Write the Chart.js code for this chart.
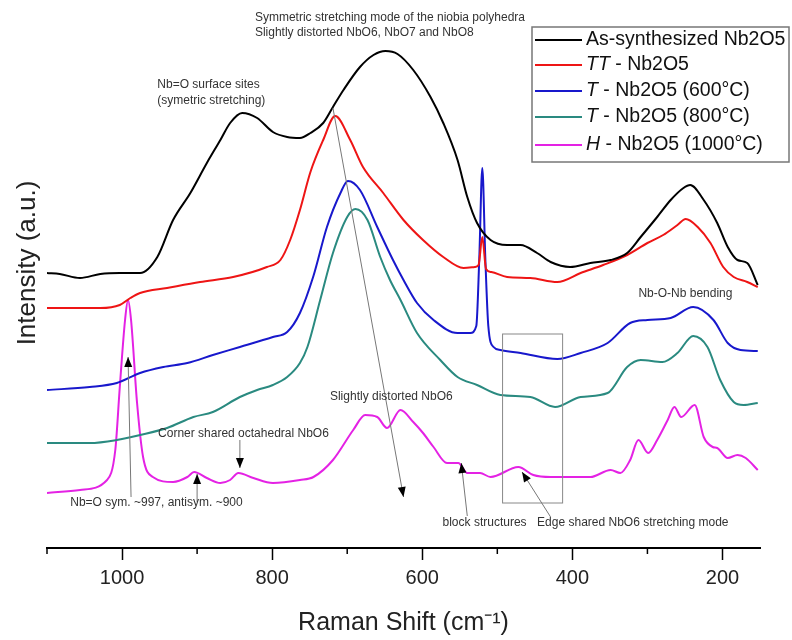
<!DOCTYPE html>
<html lang="en">
<head>
    <meta charset="UTF-8">
    <title>Raman spectra Nb2O5</title>
    <style>
        body {
            margin: 0;
            background-color: #ffffff;
        }
        .chart-container {
            position: relative;
            width: 792px;
            height: 640px;
        }
    </style>
</head>
<body>
    <div class="chart-container">
        <canvas id="ramanChart"></canvas>
    </div>

    <script src="https://cdn.jsdelivr.net/npm/chart.js"></script>
    <script>
        // Raman shift (cm-1) and offset intensity (a.u.)
        const asSynthX = [1100,1083,1056,1029,1003,976,953,932,909,887,869,856,840,820,799,780,763,749,732,719,705,683,665,649,633,612,589,572,553,540,527,509,487,469,447,429,403,376,349,327,309,287,269,252,243,225,207,193,180,167,153];
        const asSynthY = [275,274,270,274,275,275,291,328,355,385,408,425,435,430,416,411,410,415,425,441,458,481,493,497,494,478,451,425,388,351,325,308,303,303,295,286,281,285,288,295,311,331,348,360,363,348,325,301,288,285,263];

        const ttX = [1100,1029,1003,989,976,940,896,852,807,789,776,763,749,732,716,696,679,652,625,599,572,545,530,525,520,515,508,487,456,420,389,359,327,300,279,260,249,233,216,199,185,167,153];
        const ttY = [240,240,243,250,255,260,266,271,281,288,308,338,376,408,432,408,381,355,328,308,291,280,281,283,311,279,276,271,270,266,275,283,293,305,313,323,329,321,305,281,271,266,261];

        const t600X = [1100,1043,1007,976,945,913,879,843,799,780,763,745,727,709,699,683,660,639,625,607,585,553,536,528,524,520,516,512,505,496,469,420,389,353,323,300,269,239,212,193,176,153];
        const t600Y = [158,161,165,175,181,185,193,201,211,216,235,272,321,355,367,358,321,288,268,245,228,215,215,222,290,380,290,222,201,198,195,189,195,205,225,228,230,241,228,205,198,197];

        const t800X = [1100,1043,1007,976,940,905,879,843,820,799,780,763,753,736,719,700,689,673,656,643,629,607,576,553,527,496,456,423,389,353,327,309,280,260,239,220,203,185,172,153];
        const t800Y = [105,105,108,113,120,131,136,151,158,163,171,185,201,248,295,331,339,328,291,268,248,215,188,171,163,153,151,141,151,155,181,188,186,195,212,201,168,146,143,145];

        const h1000X = [1100,1056,1020,1009,1003,996,992,988,980,972,959,932,913,904,887,869,856,845,825,799,763,745,719,692,676,660,647,629,612,599,585,567,552,540,523,509,472,452,429,376,349,336,323,312,299,287,273,264,255,237,225,213,207,193,180,169,153];
        const h1000Y = [55,58,68,98,161,228,248,228,145,91,71,66,71,76,70,65,68,75,70,65,68,71,88,118,133,131,120,138,126,115,101,85,85,75,75,71,81,73,71,71,78,75,88,108,95,108,128,141,131,143,111,101,100,90,93,90,78];

        const seriesPrefix = ['', 'TT', 'T', 'T', 'H'];
        const seriesRest = ['As-synthesized Nb2O5', ' - Nb2O5', ' - Nb2O5 (600°C)', ' - Nb2O5 (800°C)', ' - Nb2O5 (1000°C)'];
        const seriesColors = ['#000000', '#ee1515', '#1818cc', '#2a8a80', '#e422e4'];

        const majorTicks = [1000, 800, 600, 400, 200];
        const minorTicks = [1100, 900, 700, 500, 300];

        const seriesX = [asSynthX, ttX, t600X, t800X, h1000X];
        const seriesY = [asSynthY, ttY, t600Y, t800Y, h1000Y];

        const FONT = '"Liberation Sans", Arial, sans-serif';

        // annotation texts and arrows, in data units (cm-1, intensity)
        const notes = [
            { t: 'Symmetric stretching mode of the niobia polyhedra', x: 823, y: 530 },
            { t: 'Slightly distorted NbO6, NbO7 and NbO8', x: 823, y: 515 },
            { t: 'Nb=O surface sites', x: 953, y: 463 },
            { t: '(symetric stretching)', x: 953, y: 447 },
            { t: 'Nb-O-Nb bending', x: 312, y: 254 },
            { t: 'Slightly distorted NbO6', x: 723, y: 151 },
            { t: 'Corner shared octahedral NbO6', x: 952, y: 114 },
            { t: 'Nb=O sym. ~997, antisym. ~900', x: 1069, y: 45 },
            { t: 'block structures', x: 573, y: 25 },
            { t: 'Edge shared NbO6 stretching mode', x: 447, y: 25 }
        ];
        const arrows = [
            [[719, 440], [625, 51]],
            [[988, 51], [992, 191]],
            [[900, 46], [900, 74]],
            [[843, 108], [843, 80]],
            [[540, 32], [548, 85]],
            [[429, 31], [467, 76]]
        ];

        function drawArrow(ctx, x1, y1, x2, y2) {
            ctx.strokeStyle = '#777';
            ctx.lineWidth = 1;
            ctx.beginPath();
            ctx.moveTo(x1, y1);
            ctx.lineTo(x2, y2);
            ctx.stroke();
            const a = Math.atan2(y2 - y1, x2 - x1);
            const len = 10, w = 4;
            ctx.fillStyle = '#000';
            ctx.beginPath();
            ctx.moveTo(x2, y2);
            ctx.lineTo(x2 - len * Math.cos(a) + w * Math.sin(a), y2 - len * Math.sin(a) - w * Math.cos(a));
            ctx.lineTo(x2 - len * Math.cos(a) - w * Math.sin(a), y2 - len * Math.sin(a) + w * Math.cos(a));
            ctx.closePath();
            ctx.fill();
        }

        const overlay = {
            id: 'overlay',
            afterDraw(chart) {
                const ctx = chart.ctx;
                const xs = chart.scales.x, ys = chart.scales.y;
                const bottom = chart.chartArea.bottom;
                ctx.save();

                // minor ticks
                ctx.strokeStyle = '#000';
                ctx.lineWidth = 1.5;
                minorTicks.forEach(v => {
                    const p = xs.getPixelForValue(v);
                    ctx.beginPath();
                    ctx.moveTo(p, bottom);
                    ctx.lineTo(p, bottom + 6);
                    ctx.stroke();
                });

                // y axis title
                ctx.save();
                ctx.translate(28, 263);
                ctx.rotate(-Math.PI / 2);
                ctx.fillStyle = '#222';
                ctx.font = '26px ' + FONT;
                ctx.textAlign = 'center';
                ctx.textBaseline = 'middle';
                ctx.fillText('Intensity (a.u.)', 0, 0);
                ctx.restore();

                // box around the edge-shared region
                const rx1 = xs.getPixelForValue(493), rx2 = xs.getPixelForValue(413);
                const ry1 = ys.getPixelForValue(214), ry2 = ys.getPixelForValue(45);
                ctx.strokeStyle = '#888';
                ctx.lineWidth = 1;
                ctx.strokeRect(rx1, ry1, rx2 - rx1, ry2 - ry1);

                arrows.forEach(([a, b]) => {
                    drawArrow(ctx, xs.getPixelForValue(a[0]), ys.getPixelForValue(a[1]),
                        xs.getPixelForValue(b[0]), ys.getPixelForValue(b[1]));
                });

                ctx.fillStyle = '#333';
                ctx.font = '12px ' + FONT;
                ctx.textAlign = 'left';
                ctx.textBaseline = 'middle';
                notes.forEach(n => {
                    ctx.fillText(n.t, xs.getPixelForValue(n.x), ys.getPixelForValue(n.y));
                });

                // legend
                ctx.fillStyle = '#fff';
                ctx.fillRect(532, 27, 257, 135);
                ctx.strokeStyle = '#777';
                ctx.lineWidth = 1.5;
                ctx.strokeRect(532, 27, 257, 135);
                const rowY = [40, 65, 91, 117, 145];
                seriesColors.forEach((c, i) => {
                    ctx.strokeStyle = c;
                    ctx.lineWidth = 2;
                    ctx.beginPath();
                    ctx.moveTo(535, rowY[i]);
                    ctx.lineTo(582, rowY[i]);
                    ctx.stroke();
                    ctx.fillStyle = '#111';
                    let tx = 586;
                    if (seriesPrefix[i]) {
                        ctx.font = 'italic 19.5px ' + FONT;
                        ctx.fillText(seriesPrefix[i], tx, rowY[i]);
                        tx += ctx.measureText(seriesPrefix[i]).width;
                    }
                    ctx.font = '19.5px ' + FONT;
                    ctx.fillText(seriesRest[i], tx, rowY[i]);
                });

                ctx.restore();
            }
        };

        const ctx = document.getElementById('ramanChart').getContext('2d');
        const ramanChart = new Chart(ctx, {
            type: 'line',
            data: {
                datasets: seriesColors.map((c, i) => ({
                    label: seriesPrefix[i] + seriesRest[i],
                    data: seriesX[i].map((v, j) => ({ x: v, y: seriesY[i][j] })),
                    borderColor: c,
                    borderWidth: 2,
                    pointRadius: 0,
                    fill: false,
                    cubicInterpolationMode: 'monotone'
                }))
            },
            options: {
                responsive: true,
                maintainAspectRatio: false,
                animation: false,
                layout: {
                    padding: { left: 47, right: 32, top: 8, bottom: 2 }
                },
                plugins: {
                    legend: { display: false },
                    tooltip: { enabled: false }
                },
                scales: {
                    x: {
                        type: 'linear',
                        reverse: true,
                        min: 150,
                        max: 1100,
                        afterBuildTicks: scale => {
                            scale.ticks = majorTicks.map(v => ({ value: v }));
                        },
                        grid: {
                            drawOnChartArea: false,
                            drawTicks: true,
                            tickLength: 12,
                            tickWidth: 1.5,
                            tickColor: '#000'
                        },
                        border: { display: true, color: '#000', width: 2 },
                        ticks: {
                            color: '#222',
                            padding: 6,
                            maxRotation: 0,
                            font: { family: FONT, size: 20 },
                            callback: v => String(v)
                        },
                        title: {
                            display: true,
                            text: 'Raman Shift (cm⁻¹)',
                            color: '#222',
                            padding: { top: 12, bottom: 0 },
                            font: { family: FONT, size: 25 }
                        }
                    },
                    y: {
                        display: false,
                        min: 0,
                        max: 540
                    }
                }
            },
            plugins: [overlay]
        });
    </script>
</body>
</html>
